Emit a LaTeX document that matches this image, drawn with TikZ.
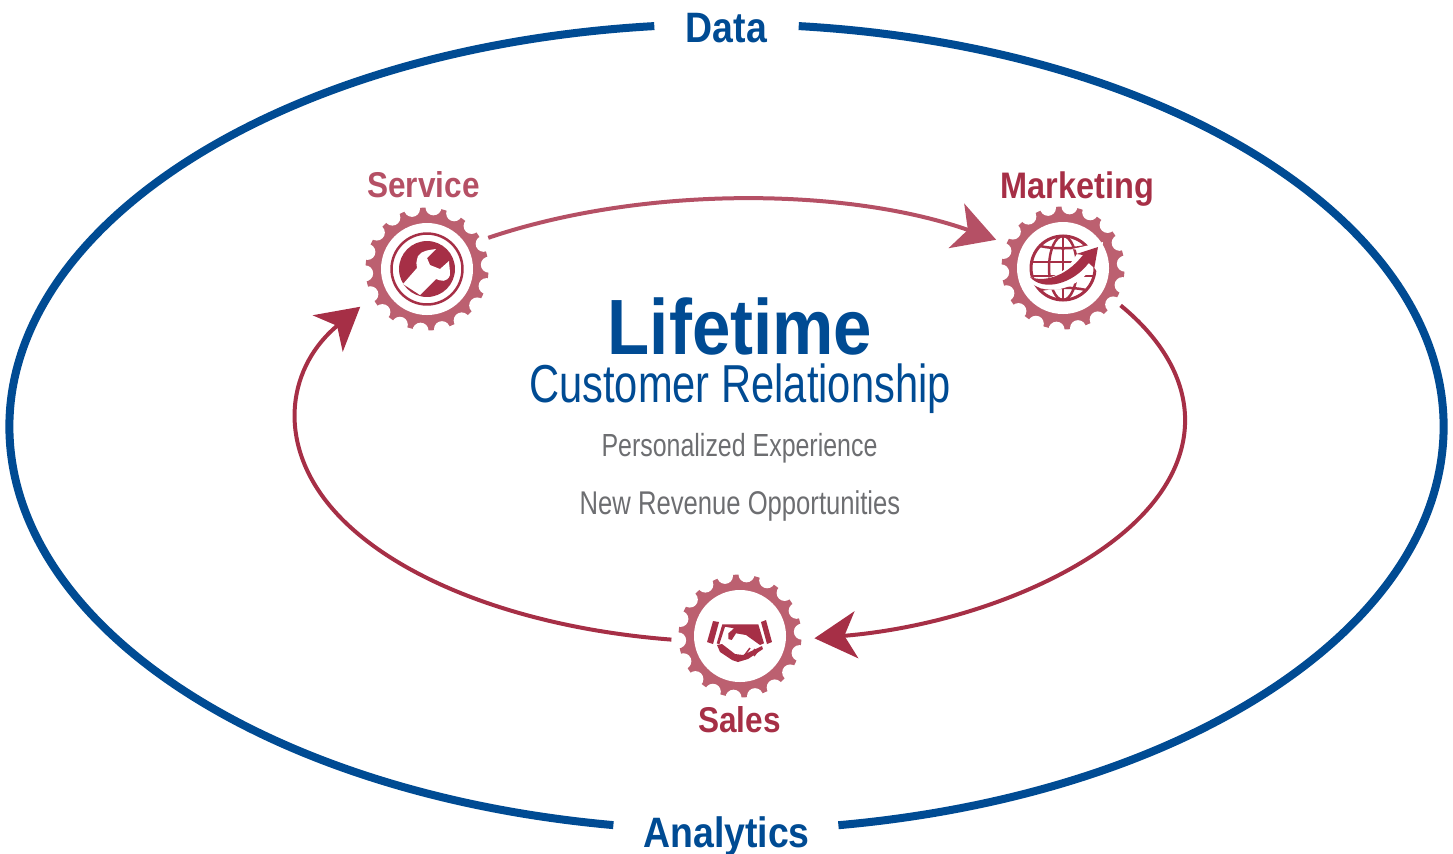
\documentclass[tikz,border=0pt]{standalone}
\usepackage{fontspec}
\usetikzlibrary{arrows.meta}
\setmainfont[FakeStretch=0.78]{Liberation Sans}
\newfontfamily\boldcond[FakeStretch=0.88]{Liberation Sans Bold}

\definecolor{ringblue}{HTML}{004B93}
\definecolor{darkred}{HTML}{A62F46}
\definecolor{softred}{HTML}{B55065}
\definecolor{gearred}{HTML}{BC6070}
\definecolor{textgrey}{HTML}{6D6E71}

\tikzset{
    gearnode/.style = {circle, inner sep = 0, minimum size = 1.36cm},
    bigtext/.style = {anchor = base, text = ringblue, inner sep = 0, font = \boldcond\fontsize{12.1}{14}\selectfont},
    steptext/.style = {anchor = base, inner sep = 0, font = \boldcond\fontsize{10.2}{12}\selectfont},
    greytext/.style = {anchor = base, inner sep = 0, text = textgrey, font = \fontsize{9.1}{11}\selectfont},
    outerline/.style = {line width = 0.08cm, ringblue},
    innerline/.style = {line width = 0.04cm, -{Stealth[length = 0.42cm, width = 0.47cm, inset = 0.12cm]}}
}

% gear without its icon, 18 teeth
\newcommand{\geardraw}[1]{
    \fill[gearred] (#1) circle [radius = 0.615];
    \foreach \a in {4, 24, ..., 344} {
        \fill[white] (#1) ++(\a:0.62) circle [radius = 0.08];
    }
    \fill[white] (#1) circle [radius = 0.46];
}

\begin{document}
\begin{tikzpicture}
    \useasboundingbox (0, 0) rectangle (14.53, 8.53);

    % text
    \node[bigtext, minimum width = 1.43cm] (data) at (7.265, 8.105) {Data};
    \node[bigtext, minimum width = 2.23cm] (analytics) at (7.265, 0.06) {Analytics};
    \node[anchor = base, inner sep = 0, text = ringblue, font = \boldcond\fontsize{22.3}{24}\selectfont] (lifetime) at (7.40, 4.99) {Lifetime};
    \node[anchor = base, inner sep = 0, text = ringblue, font = \fontsize{15.2}{18}\selectfont] (customer) at (7.40, 4.51) {Customer Relationship};
    \node[greytext] (personal) at (7.395, 3.97) {Personalized Experience};
    \node[greytext, font = \fontsize{9.35}{11}\selectfont] (revenue) at (7.40, 3.39) {New Revenue Opportunities};
    \node[steptext, text = softred] (servicetext) at (4.235, 6.56) {Service};
    \node[steptext, text = darkred, font = \boldcond\fontsize{10.5}{12}\selectfont] (marketingtext) at (10.775, 6.55) {Marketing};
    \node[steptext, text = darkred] (salestext) at (7.395, 1.21) {Sales};

    % gears
    \node[gearnode] (service) at (4.27, 5.84) {};
    \node[gearnode] (marketing) at (10.63, 5.85) {};
    \node[gearnode] (sales) at (7.40, 2.17) {};
    \geardraw{service}
    \geardraw{marketing}
    \geardraw{sales}

    % wrench
    \begin{scope}[shift = {(service)}, x = 0.01cm, y = 0.01cm]
        \draw[darkred, line width = 0.025cm] (0, 0) circle [radius = 35.5];
        \fill[darkred] (0, 0) circle [radius = 28];
        \fill[white] (-24, -15) -- (-7, -26) -- (9, -10) .. controls (14, -12) and (20, -14) .. (23, -6)
            .. controls (23, 0) and (22, 5) .. (22, 8) -- (13, 0) -- (3, 4) -- (0, 11) -- (9, 20)
            .. controls (3, 19) and (-5, 19) .. (-9, 13) .. controls (-11, 7) and (-11, 4) .. (-10, 1) -- cycle;
    \end{scope}

    % globe
    \begin{scope}[shift = {(marketing)}, x = 0.01cm, y = 0.01cm]
        \draw[darkred, line width = 0.03cm] (0, 0) circle [radius = 32];
        \draw[darkred, line width = 0.025cm] (0, 0) ellipse [x radius = 14, y radius = 32];
        \draw[darkred, line width = 0.025cm] (0, -32) -- (0, 32);
        \draw[darkred, line width = 0.025cm] (-31, 6) -- (31, 6);
        \draw[darkred, line width = 0.025cm] (-23, 22) .. controls (-10, 19) and (10, 19) .. (23, 22);
        \draw[darkred, line width = 0.025cm] (-23, -22) .. controls (-10, -19) and (10, -19) .. (23, -22);
        \draw[darkred, line width = 0.025cm] (-31, -8) -- (31, -8);
        \fill[white] (-38, -7) .. controls (-25, -14) and (0, -14) .. (16, 18) -- (9, 19) -- (40, 26) -- (36, -6)
            -- (30, 2) .. controls (10, -28) and (-28, -28) .. (-38, -7) -- cycle;
        \fill[darkred] (-33, -9) .. controls (-20, -14) and (2, -10) .. (20, 13) -- (13.3, 14) -- (35, 21)
            -- (31.3, 0) -- (25.7, 5) .. controls (10, -16) and (-20, -24) .. (-33, -9) -- cycle;
    \end{scope}

    % handshake
    \begin{scope}[shift = {(sales)}, x = 0.01cm, y = 0.01cm]
        \fill[darkred] (-27, 15) -- (-21, 14) -- (-27, -8) -- (-33, -6) -- cycle;
        \fill[darkred] (21, 14) -- (26, 16) -- (32, -6) -- (27, -8) -- cycle;
        \fill[darkred] (-17.7, 11.7) -- (18.3, 11.7) -- (24, -7.3) -- (20, -9) -- (6, 1) -- (-4, 2.7) -- (-8.3, -4)
            -- (-11.7, -3) -- (-11.7, 2.7) -- (-6, 7.7) -- (-15, 9.3) -- (-20.7, -8.3) -- (-23.3, -7.3) -- cycle;
        \fill[darkred] (-23, -9) -- (-18, -8) -- (-5, -18) -- (3, -19) -- (22, -10) -- (23, -13) -- (8, -23)
            -- (-2, -26) -- (-8, -24) -- (-20, -16) -- cycle;
        \draw[darkred, line width = 0.015cm] (4, -20) -- (10, -12);
        \draw[darkred, line width = 0.015cm] (9, -21) -- (15, -13);
        \draw[darkred, line width = 0.015cm] (14, -20) -- (19, -13);
    \end{scope}

    % outer ring
    \draw[outerline] ([yshift = 0.02cm]data.east) arc [start angle = 84.3, end angle = -81.1, x radius = 7.16, y radius = 4.03];
    \draw[outerline] ([yshift = 0.02cm]data.west) arc [start angle = 95.7, end angle = 261, x radius = 7.16, y radius = 4.03];

    % inner ring
    \draw[innerline, softred] (service.27) arc [start angle = 124.4, end angle = 54.7, x radius = 4.445, y radius = 2.2];
    \draw[innerline, darkred] (marketing.-33) arc [start angle = 31.3, end angle = -80.6, x radius = 4.43, y radius = 2.21];
    \draw[innerline, darkred] (sales.183) arc [start angle = 261.2, end angle = 148.8, x radius = 4.43, y radius = 2.21];
\end{tikzpicture}
\end{document}
